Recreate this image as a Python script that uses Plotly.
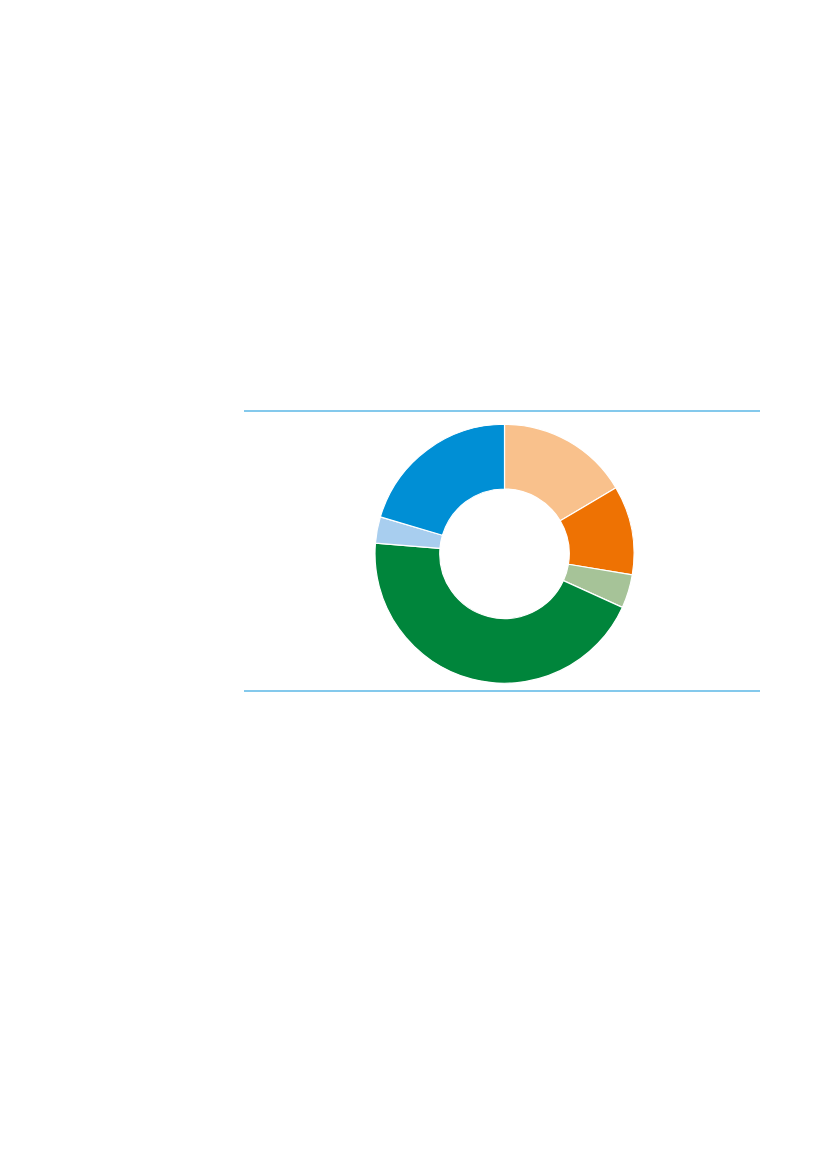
import plotly.graph_objects as go

segments = ["A", "B", "C", "D", "E", "F"]
shares = [16.5, 11.1, 4.2, 44.5, 3.3, 20.4]
colours = ["#F9C18C", "#EE7203", "#A6C398", "#00853B", "#A8CEEF", "#008FD5"]

W, H = 827, 1169
OFF = 8  # the html page puts the figure 8px in from the corner

fig = go.Figure(go.Pie(
    labels=segments,
    values=shares,
    sort=False,
    direction="clockwise",
    rotation=0,
    hole=0.5,
    textinfo="none",
    hoverinfo="label+percent",
    marker=dict(colors=colours, line=dict(color="white", width=1.2)),
    domain=dict(x=[(375 - OFF) / W, (634 - OFF) / W],
                y=[1 - (683.5 - OFF) / H, 1 - (424 - OFF) / H]),
))

# thin rules above and below the chart
for yy in [411, 691]:
    fig.add_shape(type="line", xref="paper", yref="paper",
                  x0=(244 - OFF) / W, x1=(760 - OFF) / W,
                  y0=1 - (yy - OFF) / H, y1=1 - (yy - OFF) / H,
                  line=dict(color="#5BB7E6", width=1.5))

fig.update_layout(
    width=W, height=H,
    margin=dict(l=0, r=0, t=0, b=0),
    showlegend=False,
    paper_bgcolor="white",
    plot_bgcolor="white",
)

fig.write_html("out.html")
